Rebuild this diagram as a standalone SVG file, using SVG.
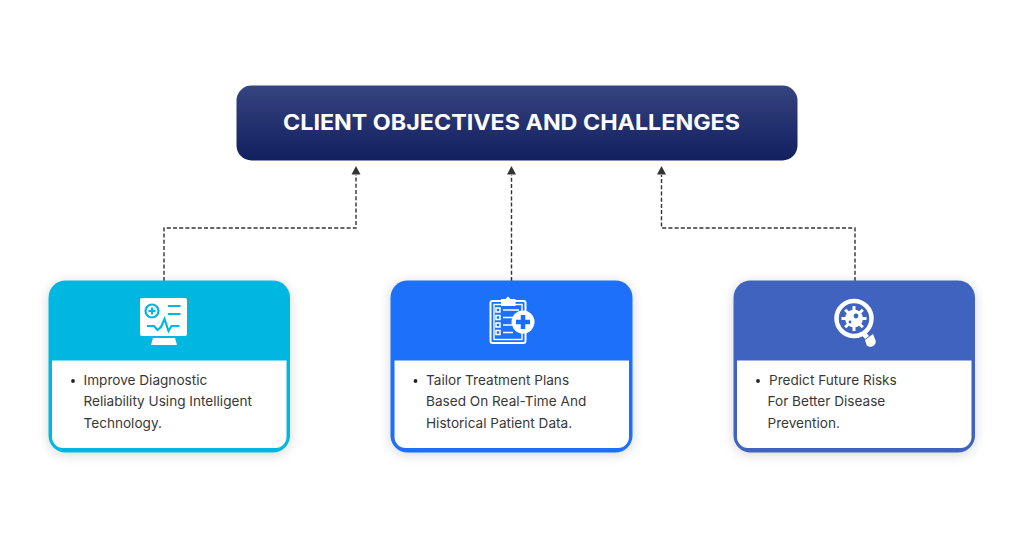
<svg xmlns="http://www.w3.org/2000/svg" width="1024" height="536" viewBox="0 0 1024 536">
<style>
.t{font-family:Inter,"Liberation Sans",sans-serif;font-size:13.6px;fill:#383838}
.h{font-family:Inter,"Liberation Sans",sans-serif;font-size:21.5px;font-weight:700;fill:#fff}
.c{fill:none;stroke:#333;stroke-width:1.4;stroke-dasharray:4 2.2}
.w{fill:#fff}
.wl{fill:none;stroke:#fff}
</style>
<defs>
<linearGradient id="g" x1="0" y1="0" x2="0" y2="1"><stop offset="0" stop-color="#36447f"/><stop offset="1" stop-color="#121f60"/></linearGradient>
<filter id="s" x="-15%" y="-15%" width="130%" height="130%"><feDropShadow dx="0" dy="2" stdDeviation="6" flood-color="#000" flood-opacity=".16"/></filter>
</defs>
<rect width="1024" height="536" fill="#fff"/>
<g id="connectors">
<path class="c" d="M164 281V228H356V175"/><path d="M356 166L360.500 174.500H351.500Z" fill="#333"/>
<path class="c" d="M511.500 281V175"/><path d="M511.500 166L516 174.500H507Z" fill="#333"/>
<path class="c" d="M855 281V228H661.500V175"/><path d="M661.500 166L666 174.500H657Z" fill="#333"/>
</g>
<g id="header">
<rect x="236.500" y="85.500" width="561" height="75" rx="15" fill="url(#g)"/>
<text class="h" x="511.500" y="129.500" text-anchor="middle" textLength="457" lengthAdjust="spacingAndGlyphs">CLIENT OBJECTIVES AND CHALLENGES</text>
</g>
<g id="card-1">
<rect x="48.500" y="280.500" width="241.500" height="172" rx="17" fill="#00b7e1" filter="url(#s)"/>
<path class="w" d="M52 360.500H286.500V437a11 11 0 0 1-11 11H63a11 11 0 0 1-11-11Z"/>
<g id="icon-1">
<rect x="140" y="298" width="47" height="38" rx="2" class="w"/>
<path class="w" d="M153 338H175L177 345H151Z"/>
<circle cx="152" cy="311" r="6.500" fill="none" stroke="#00b7e1" stroke-width="2.200"/>
<path d="M152 307.500v7M148.500 311h7" stroke="#00b7e1" stroke-width="2" fill="none"/>
<path d="M168 306h12.500M168 314h12.500" stroke="#00b7e1" stroke-width="2.200" fill="none"/>
<path d="M147 326h7l3.500 4 3.500-3 3.500-8 4 12 3-5h8" stroke="#00b7e1" stroke-width="2.200" fill="none"/>
</g>
<circle cx="73" cy="381" r="1.900" fill="#222"/>
<text class="t" x="83.500" y="384.500">Improve Diagnostic</text>
<text class="t" x="83.500" y="406">Reliability Using Intelligent</text>
<text class="t" x="83.500" y="427.500">Technology.</text>
</g>
<g id="card-2">
<rect x="390.500" y="280.500" width="242" height="172" rx="17" fill="#1a6ffa" filter="url(#s)"/>
<path class="w" d="M394.500 360.500H629V437a11 11 0 0 1-11 11H405.500a11 11 0 0 1-11-11Z"/>
<g id="icon-2">
<rect x="490.500" y="301" width="35" height="42" rx="2" class="wl" stroke-width="2"/>
<rect x="494" y="304.500" width="28" height="35" class="wl" stroke-width="1.400"/>
<path class="w" d="M501 299h4.500l2.500-2.500 2.500 2.500h5V306H501Z"/>
<path class="wl" stroke-width="1.500" d="M496 308h4v4h-4ZM496 315.500h4v4h-4ZM496 323h4v4h-4ZM496 330.500h4v4h-4Z"/>
<path class="wl" stroke-width="1.600" d="M503 310h16M503 317.500h13M503 325h9M503 332.500h10"/>
<circle cx="523" cy="322" r="11.500" class="w"/>
<path d="M523 315v14M516 322h14" stroke="#1a6ffa" stroke-width="4.500" fill="none"/>
</g>
<circle cx="415.500" cy="381" r="1.900" fill="#222"/>
<text class="t" x="426" y="384.500">Tailor Treatment Plans</text>
<text class="t" x="426" y="406">Based On Real-Time And</text>
<text class="t" x="426" y="427.500">Historical Patient Data.</text>
</g>
<g id="card-3">
<rect x="733.500" y="280.500" width="241.500" height="172" rx="17" fill="#3f63bf" filter="url(#s)"/>
<path class="w" d="M737 360.500H971.500V437a11 11 0 0 1-11 11H748a11 11 0 0 1-11-11Z"/>
<g id="icon-3">
<circle cx="854" cy="318.500" r="17.500" class="wl" stroke-width="4.500"/>
<circle cx="854" cy="318.500" r="9" class="w"/>
<path class="wl" stroke-width="3" d="M854 306v25M841.500 318.500h25M845.200 309.700l17.600 17.600M845.200 327.300l17.600-17.600"/>
<circle cx="856" cy="316" r="2.400" fill="#3f63bf"/>
<circle cx="850" cy="322" r="1.400" fill="#3f63bf"/>
<path class="w" d="M862 335.500l4-3 3 3.500-4 3Z"/>
<path class="w" d="M865 340l8-6 2.800 7a5.500 5.500 0 0 1-9 4.500Z"/>
</g>
<circle cx="758" cy="381" r="1.900" fill="#222"/>
<text class="t" x="769" y="384.500">Predict Future Risks</text>
<text class="t" x="767.500" y="406">For Better Disease</text>
<text class="t" x="767.500" y="427.500">Prevention.</text>
</g>
</svg>
